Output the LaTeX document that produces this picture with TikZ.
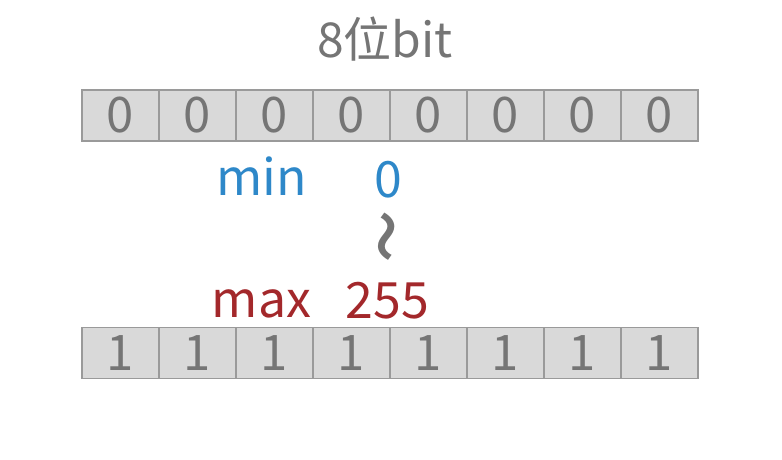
\documentclass[tikz,border=0pt]{standalone}
\usepackage{fontspec}
\setmainfont{Noto Sans CJK SC}
\definecolor{textgray}{HTML}{757575}
\definecolor{cellfill}{HTML}{D9D9D9}
\definecolor{celldraw}{HTML}{9A9A9A}
\definecolor{minblue}{HTML}{2E88C9}
\definecolor{maxred}{HTML}{A3282B}

\begin{document}
\begin{tikzpicture}[x=1pt, y=-1pt]

	\tikzstyle{bit_cell} = [rectangle, draw=celldraw, fill=cellfill, line width=1.6pt, minimum width=77pt, minimum height=51pt, inner sep=0pt, text=textgray, font=\fontsize{49}{52}\selectfont]
	\tikzstyle{big_text} = [inner sep=0pt, anchor=base, font=\fontsize{50}{54}\selectfont]

	\useasboundingbox (0,0) rectangle (782,460);

%------------------------------------------------------------
	\node[big_text, text=textgray, font=\fontsize{48}{52}\selectfont] (title) at (385,58) {8位bit};

%------------------------------------------------------------
	\node[bit_cell] (b00) at (120.5,115.5) {0};
	\node[bit_cell] (b01) at (197.5,115.5) {0};
	\node[bit_cell] (b02) at (274.5,115.5) {0};
	\node[bit_cell] (b03) at (351.5,115.5) {0};
	\node[bit_cell] (b04) at (428.5,115.5) {0};
	\node[bit_cell] (b05) at (505.5,115.5) {0};
	\node[bit_cell] (b06) at (582.5,115.5) {0};
	\node[bit_cell] (b07) at (659.5,115.5) {0};

%------------------------------------------------------------
	\node[big_text, text=minblue] (min) at (261.5,195) {min};
	\node[big_text, text=minblue] (minval) at (388.5,197) {0};

	\node[text=textgray, rotate=90, inner sep=0pt, font=\fontsize{100}{100}\selectfont] (range) at (401,237) {\char`\~};

	\node[big_text, text=maxred] (max) at (261.5,317) {max};
	\node[big_text, text=maxred] (maxval) at (387.5,318) {255};

%------------------------------------------------------------
	\node[bit_cell] (b10) at (120.5,353) {1};
	\node[bit_cell] (b11) at (197.5,353) {1};
	\node[bit_cell] (b12) at (274.5,353) {1};
	\node[bit_cell] (b13) at (351.5,353) {1};
	\node[bit_cell] (b14) at (428.5,353) {1};
	\node[bit_cell] (b15) at (505.5,353) {1};
	\node[bit_cell] (b16) at (582.5,353) {1};
	\node[bit_cell] (b17) at (659.5,353) {1};

\end{tikzpicture}
\end{document}
